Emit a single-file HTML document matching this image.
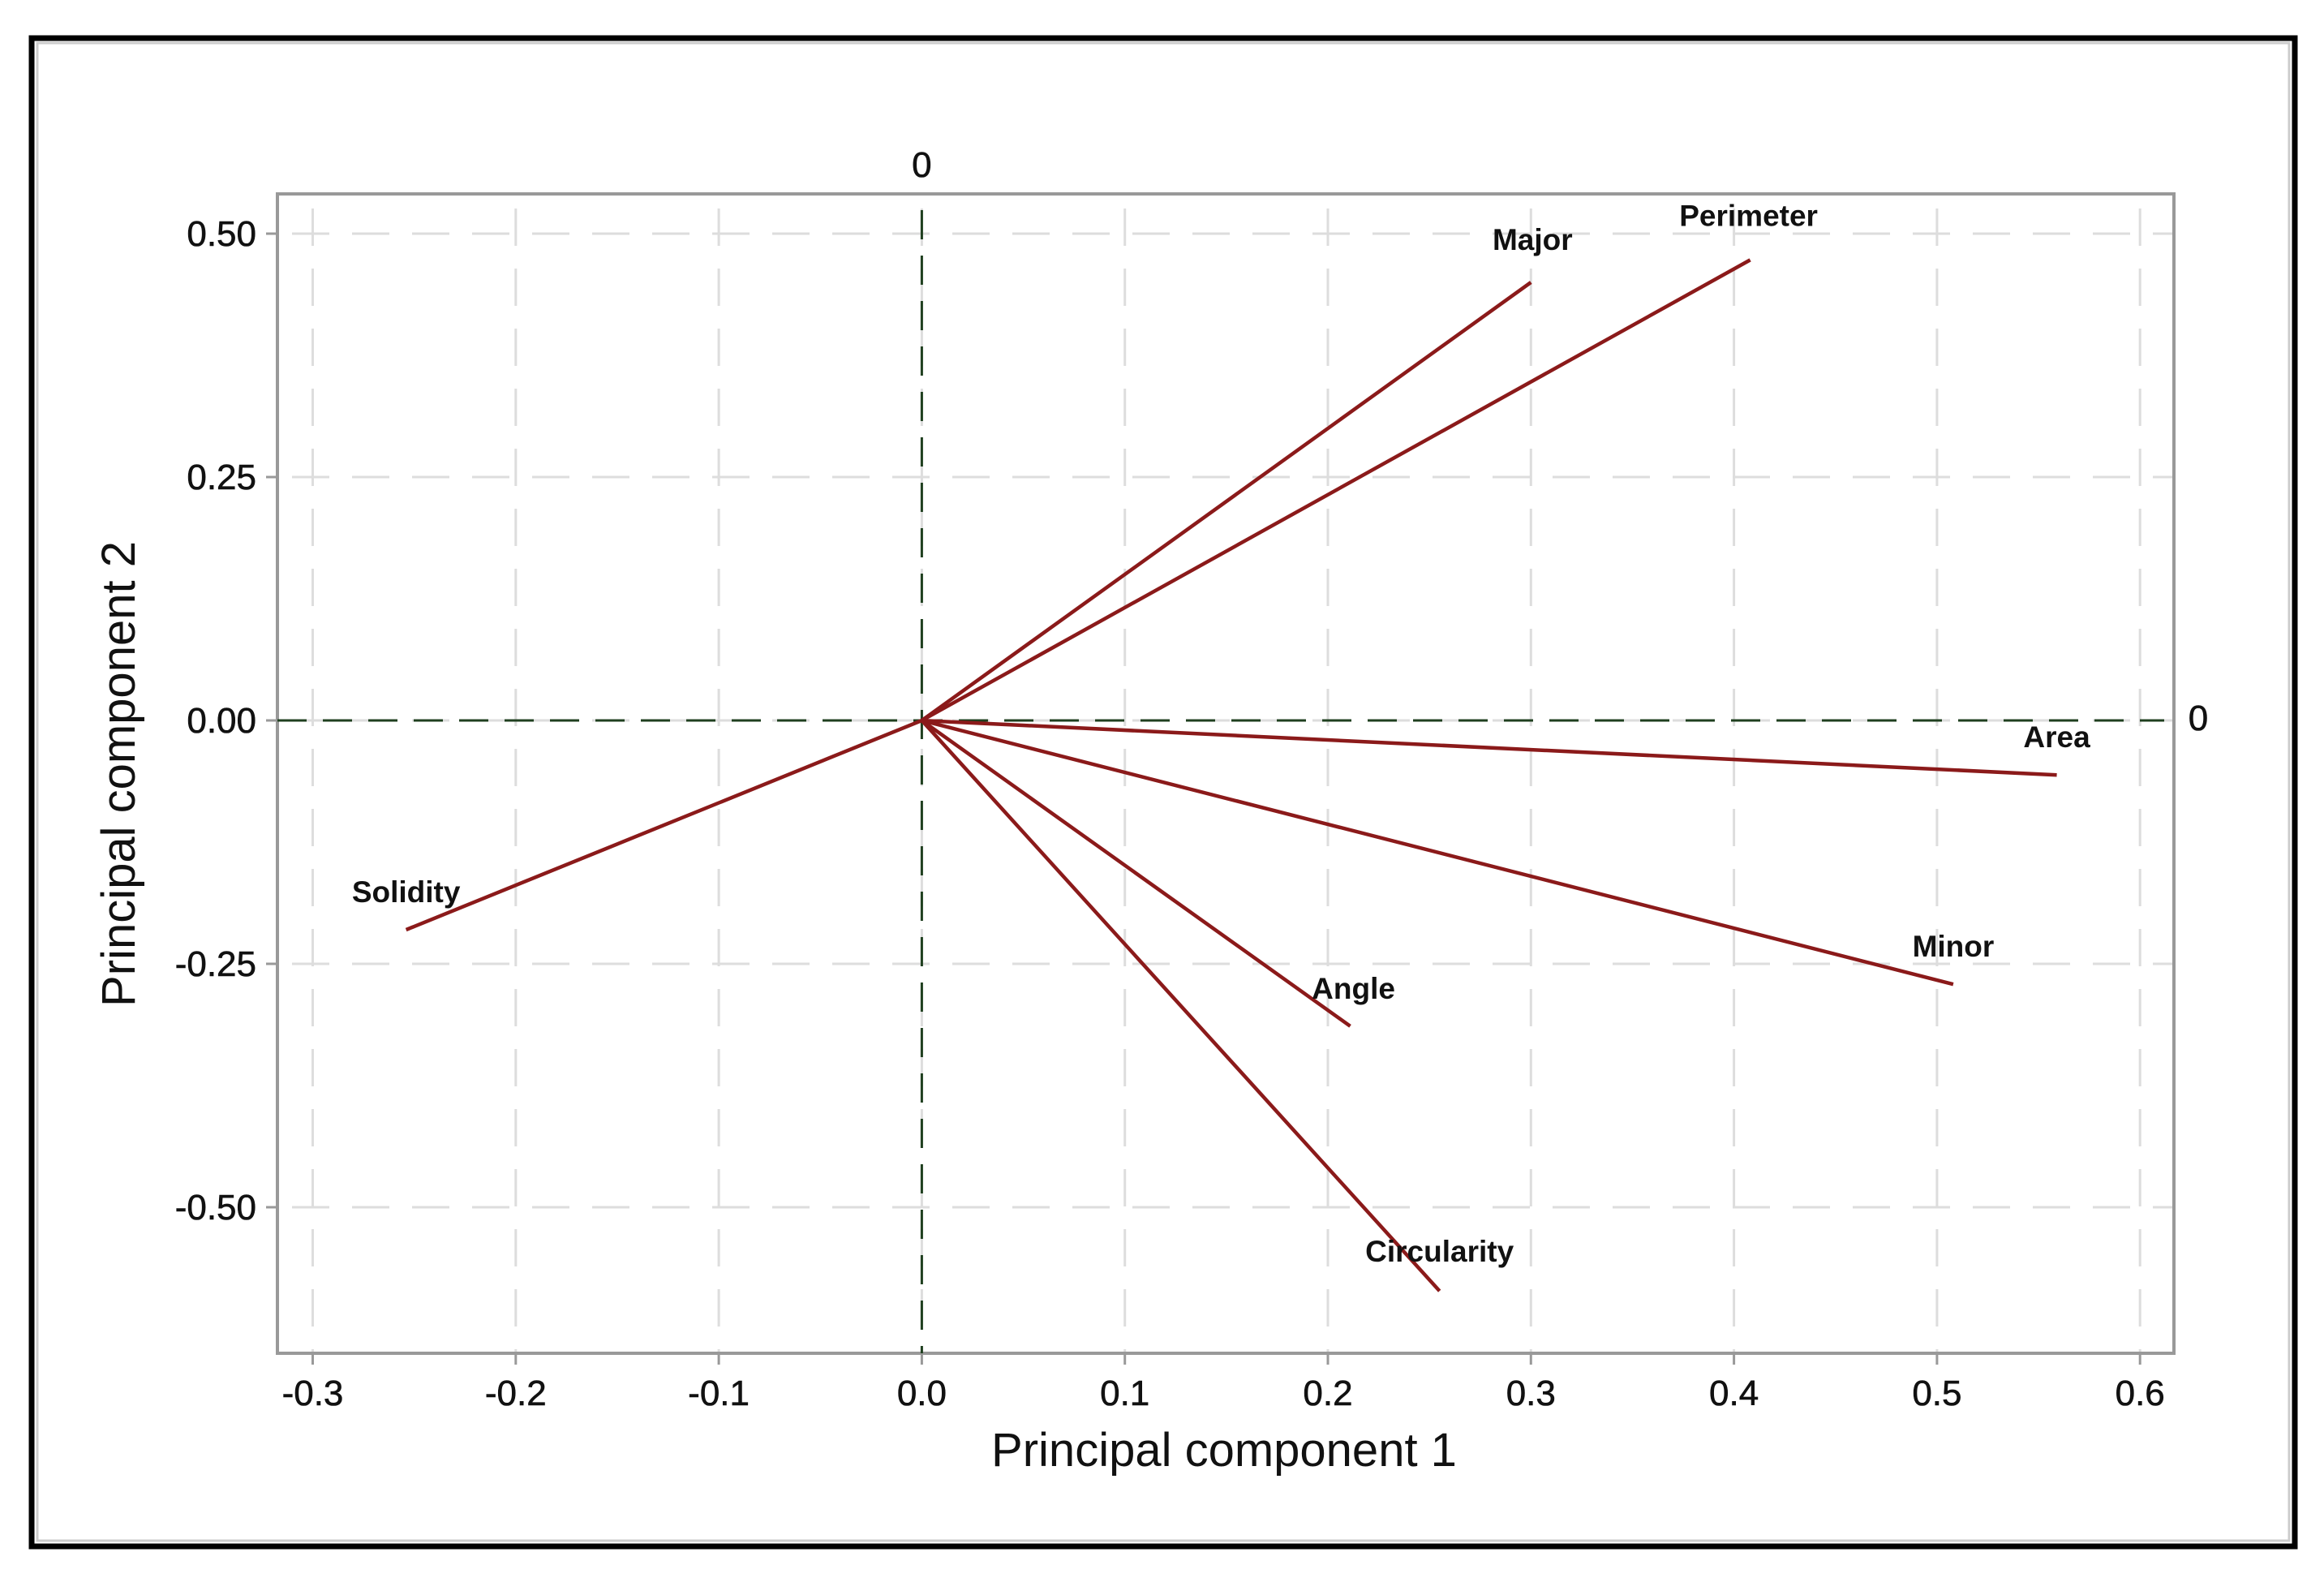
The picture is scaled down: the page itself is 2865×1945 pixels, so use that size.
<!DOCTYPE html>
<html><head><meta charset="utf-8"><style>
html,body{margin:0;padding:0;background:#fff}
svg{display:block}
text{font-family:"Liberation Sans",sans-serif}
</style></head><body>
<svg id="chart" width="2865" height="1945" viewBox="0 0 2865 1945" xmlns="http://www.w3.org/2000/svg">
<rect x="0" y="0" width="2865" height="1945" fill="#fff"/>
<rect x="39" y="47" width="2790" height="1859" fill="none" stroke="#000" stroke-width="7"/>
<rect x="46" y="53" width="2776" height="1846" fill="none" stroke="#ccc" stroke-width="3"/>
<g id="grid"></g>
<g id="axes"></g>
<g id="vectors"></g>
<text x="1509" y="1807" font-size="58" text-anchor="middle" fill="#111">Principal component 1</text>
<text transform="translate(166,954) rotate(-90)" font-size="58" text-anchor="middle" fill="#111">Principal component 2</text>
</svg>
<script>
const xTicks = [-0.3,-0.2,-0.1,0.0,0.1,0.2,0.3,0.4,0.5,0.6];
const xTickLabels = ["-0.3","-0.2","-0.1","0.0","0.1","0.2","0.3","0.4","0.5","0.6"];
const yTicks = [0.5,0.25,0,-0.25,-0.5];
const yTickLabels = ["0.50","0.25","0.00","-0.25","-0.50"];
const variables = ["Major","Perimeter","Area","Minor","Angle","Circularity","Solidity"];
const pc1 = [0.300,0.408,0.559,0.508,0.211,0.255,-0.254];
const pc2 = [0.450,0.473,-0.056,-0.271,-0.314,-0.586,-0.215];

const L=342,T=239,R=2680,B=1668;
const X0=1136.4,XS=2503,Y0=888,YS=1200;
const sx=v=>X0+v*XS, sy=v=>Y0-v*YS;
const NS="http://www.w3.org/2000/svg";
function mk(tag,attrs,parent){const e=document.createElementNS(NS,tag);for(const k in attrs)e.setAttribute(k,attrs[k]);parent.appendChild(e);return e;}
const grid=document.getElementById('grid'),axes=document.getElementById('axes'),vec=document.getElementById('vectors');

xTicks.forEach((t,i)=>{
  const x=sx(t);
  const g=mk('line',{x1:x,x2:x,y1:T+18,y2:B,stroke:"#ddd","stroke-width":3,"stroke-dasharray":"46 28"},grid);
  
  
  const tk=mk('line',{x1:x,x2:x,y1:B,y2:B+14,stroke:"#999","stroke-width":3},axes);
  
  
  const lb=mk('text',{x:x,y:B+64,"font-size":44,"text-anchor":"middle",fill:"#111",stroke:"#111","stroke-width":0.6},axes);
  lb.textContent=xTickLabels[i];
  
  
});
yTicks.forEach((t,i)=>{
  const y=sy(t);
  const g=mk('line',{x1:L+18,x2:R,y1:y,y2:y,stroke:"#ddd","stroke-width":3,"stroke-dasharray":"46 28"},grid);
  
  
  const tk=mk('line',{x1:L-14,x2:L,y1:y,y2:y,stroke:"#999","stroke-width":3},axes);
  
  
  const lb=mk('text',{x:L-26,y:y+15,"font-size":44,"text-anchor":"end",fill:"#111",stroke:"#111","stroke-width":0.6},axes);
  lb.textContent=yTickLabels[i];
  
  
});
const box=mk('rect',{x:L,y:T,width:R-L,height:B-T,fill:"none",stroke:"#999","stroke-width":4},axes);


const zv=mk('line',{x1:sx(0),x2:sx(0),y1:T+20,y2:B,stroke:"#1f3f1f","stroke-width":3,"stroke-dasharray":"36 20"},axes);


const zh=mk('line',{x1:L,x2:R-12,y1:sy(0),y2:sy(0),stroke:"#1f3f1f","stroke-width":3,"stroke-dasharray":"36 20"},axes);


const z1=mk('text',{x:sx(0),y:218,"font-size":44,"text-anchor":"middle",fill:"#111",stroke:"#111","stroke-width":0.6},axes);
z1.textContent="0";


const z2=mk('text',{x:2710,y:sy(0)+12,"font-size":44,"text-anchor":"middle",fill:"#111",stroke:"#111","stroke-width":0.6},axes);
z2.textContent="0";



const labelOff={Major:[2,-40],Perimeter:[-2,-42],Area:[0,-34],Minor:[0,-34],Angle:[4,-34],Circularity:[0,-36],Solidity:[0,-34]};
variables.forEach((v,i)=>{
  const x=sx(pc1[i]),y=sy(pc2[i]);
  const ln=mk('line',{x1:sx(0),y1:sy(0),x2:x,y2:y,stroke:"#8b1a1a","stroke-width":4.5},vec);
  
  
  const o=labelOff[v]||[0,-34];
  const t=mk('text',{x:x+o[0],y:y+o[1],"font-size":37,"font-weight":"bold","text-anchor":"middle",fill:"#111"},vec);
  t.textContent=v;
  
  
});
</script>
</body></html>
